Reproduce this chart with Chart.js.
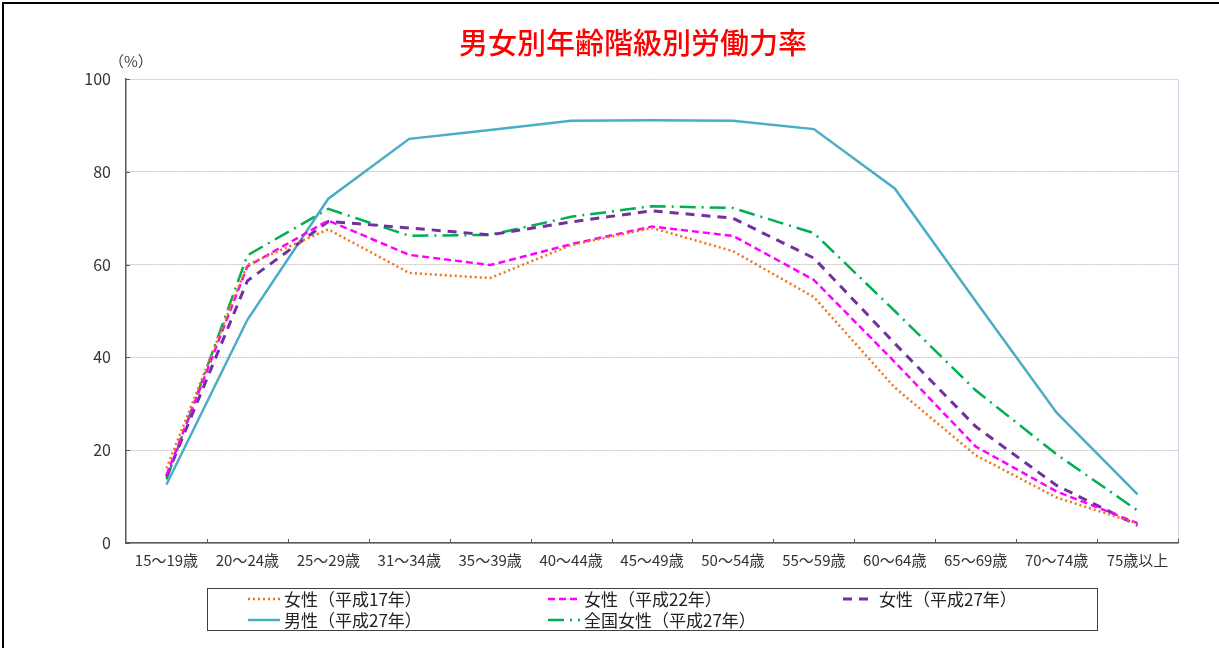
<!DOCTYPE html>
<html>
<head>
    <meta charset="utf-8">
    <title>男女別年齢階級別労働力率</title>
    <script src="https://cdn.jsdelivr.net/npm/chart.js@4.4.0/dist/chart.umd.min.js"></script>
    <style>
        body { margin: 0; background: #fff; font-family: "Noto Sans CJK JP", sans-serif; }
        #wrap { position: relative; width: 1219px; height: 648px; overflow: hidden; }
        #frame { position: absolute; left: 2px; top: 2px; width: 1300px; height: 700px;
                 border-left: 2px solid #000; border-top: 2px solid #000; }
        #title { position: absolute; left: 0; width: 1266px; top: 22px; text-align: center;
                 color: #ff0000; font-size: 29px; font-weight: 500; line-height: 38px; }
        #unit { position: absolute; left: 109px; top: 50px; font-size: 15px; color: #404040; }
        #chart { position: absolute; left: 0; top: 0; }
        #legend { position: absolute; left: 207px; top: 588px; width: 889px; height: 41px;
                  border: 1px solid #404040; }
        .item { position: absolute; font-size: 17px; line-height: 20px; color: #222;
                white-space: nowrap; display: flex; align-items: center; }
        .item svg { margin-right: 4px; }
    </style>
</head>
<body>
<div id="wrap">
    <div id="frame"></div>
    <canvas id="chart" width="1219" height="648"></canvas>
    <div id="title">男女別年齢階級別労働力率</div>
    <div id="unit">（%）</div>
    <div id="legend"></div>
</div>
<script>
    // age groups (x axis)
    const categories = ['15～19歳', '20～24歳', '25～29歳', '31～34歳', '35～39歳', '40～44歳',
        '45～49歳', '50～54歳', '55～59歳', '60～64歳', '65～69歳', '70～74歳', '75歳以上'];

    // labour force participation rate (%)
    const female17 = [16.1, 60.0, 67.6, 58.2, 57.1, 64.2, 67.9, 62.9, 53.0, 33.5, 18.9, 9.8, 4.2];
    const female22 = [14.6, 59.6, 69.5, 62.1, 59.9, 64.4, 68.2, 66.2, 56.7, 39.0, 20.8, 11.1, 4.3];
    const female27 = [14.3, 56.5, 69.3, 67.9, 66.4, 69.2, 71.6, 70.0, 61.4, 43.0, 25.1, 12.4, 3.8];
    const male27 = [12.6, 48.1, 74.2, 87.1, 89.0, 91.0, 91.1, 91.0, 89.2, 76.4, 52.1, 28.1, 10.5];
    const national27 = [13.7, 62.0, 72.0, 66.2, 66.4, 70.3, 72.6, 72.2, 66.8, 50.0, 32.9, 19.1, 7.0];

    const yTicks = [0, 20, 40, 60, 80, 100];

    const datasets = [
        { label: '女性（平成17年）', data: female17, borderColor: '#ee7318', borderWidth: 2.5, borderDash: [2, 3] },
        { label: '女性（平成22年）', data: female22, borderColor: '#ff00ff', borderWidth: 2.5, borderDash: [7, 4] },
        { label: '女性（平成27年）', data: female27, borderColor: '#7030a0', borderWidth: 3, borderDash: [9, 7] },
        { label: '男性（平成27年）', data: male27, borderColor: '#4bacc6', borderWidth: 2.5, borderDash: [] },
        { label: '全国女性（平成27年）', data: national27, borderColor: '#00b050', borderWidth: 2.5, borderDash: [16, 6, 2, 6] }
    ];
    datasets.forEach(d => { d.pointRadius = 0; d.tension = 0; d.fill = false; });

    // light plot frame on top/right, small inward tick marks
    const frameTicks = {
        id: 'frameTicks',
        beforeDatasetsDraw(chart) {
            const { ctx, chartArea: a, scales: { y } } = chart;
            ctx.save();
            ctx.strokeStyle = '#cdd9ea';
            ctx.lineWidth = 1;
            ctx.beginPath();
            ctx.moveTo(a.left, a.top + 0.5);
            ctx.lineTo(a.right + 0.5, a.top + 0.5);
            ctx.lineTo(a.right + 0.5, a.bottom);
            ctx.stroke();

            ctx.strokeStyle = '#595959';
            ctx.beginPath();
            yTicks.forEach(v => {
                const yy = Math.round(y.getPixelForValue(v)) + 0.5;
                ctx.moveTo(a.left, yy);
                ctx.lineTo(a.left + 4, yy);
            });
            const n = categories.length;
            for (let i = 1; i <= n; i++) {
                const xx = Math.round(a.left + (a.right - a.left) * i / n) + 0.5;
                ctx.moveTo(xx, a.bottom);
                ctx.lineTo(xx, a.bottom - 4);
            }
            ctx.stroke();
            ctx.restore();
        }
    };

    const chart = new Chart(document.getElementById('chart'), {
        type: 'line',
        data: { labels: categories, datasets: datasets },
        options: {
            responsive: false,
            animation: false,
            layout: { padding: { left: 0, right: 41, top: 79, bottom: 0 } },
            plugins: { legend: { display: false }, title: { display: false }, tooltip: { enabled: false } },
            scales: {
                x: {
                    offset: true,
                    grid: { display: false, drawTicks: false },
                    border: { display: true, color: '#595959', width: 1.5 },
                    ticks: { color: '#333', font: { family: 'Noto Sans CJK JP', size: 15 }, padding: 8, maxRotation: 0, autoSkip: false },
                    afterFit(scale) { scale.height = 105; }
                },
                y: {
                    min: 0, max: 100,
                    afterBuildTicks(scale) { scale.ticks = yTicks.map(v => ({ value: v })); },
                    grid: { color: '#c4c4c4', lineWidth: 1, drawTicks: false },
                    border: { display: true, color: '#595959', width: 1.5, dash: [2, 1] },
                    ticks: { color: '#333', font: { family: 'Noto Sans CJK JP', size: 16 }, padding: 15 },
                    afterFit(scale) { scale.width = 126; }
                }
            }
        },
        plugins: [frameTicks]
    });

    // legend in three columns, two rows
    const legend = document.getElementById('legend');
    const colX = [40, 340, 635];
    datasets.forEach((d, i) => {
        const el = document.createElement('div');
        el.className = 'item';
        el.style.left = colX[i % 3] + 'px';
        el.style.top = (i < 3 ? 0 : 21) + 'px';
        const dash = d.borderDash.length ? d.borderDash.join(' ') : 'none';
        el.innerHTML = '<svg width="32" height="10"><line x1="0" y1="5" x2="32" y2="5" stroke="' + d.borderColor +
            '" stroke-width="' + d.borderWidth + '" stroke-dasharray="' + dash + '"/></svg>';
        el.appendChild(document.createTextNode(d.label));
        legend.appendChild(el);
    });
</script>
</body>
</html>
